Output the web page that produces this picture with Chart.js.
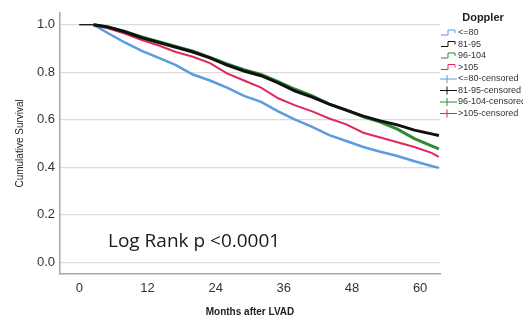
<html>
  <head>
    <script src="https://cdn.jsdelivr.net/npm/chart.js@4.4.1/dist/chart.umd.min.js"></script>
    <style>
      body { margin: 0; background: #fff; }
    </style>
  </head>
  <body>
    <canvas id="kmChart" width="523" height="322"></canvas>
    <script>
// Kaplan-Meier survival by Doppler group, months after LVAD
const months   = [0, 2.5, 5, 8, 11, 14, 17, 20, 23, 26, 29, 32, 35, 38, 41, 44, 47, 50, 53, 56, 59, 62, 63.3];
const surv80   = [1, 1, 0.965, 0.925, 0.89, 0.86, 0.83, 0.79, 0.765, 0.735, 0.70, 0.675, 0.635, 0.60, 0.57, 0.535, 0.51, 0.485, 0.465, 0.447, 0.425, 0.405, 0.397];
const surv95   = [1, 1, 0.99, 0.97, 0.945, 0.925, 0.905, 0.885, 0.86, 0.83, 0.805, 0.785, 0.755, 0.72, 0.695, 0.665, 0.64, 0.615, 0.595, 0.578, 0.556, 0.54, 0.533];
const surv104  = [1, 1, 0.99, 0.972, 0.948, 0.928, 0.908, 0.888, 0.862, 0.835, 0.81, 0.79, 0.76, 0.728, 0.70, 0.665, 0.64, 0.612, 0.59, 0.56, 0.52, 0.49, 0.477];
const surv105  = [1, 1, 0.985, 0.963, 0.935, 0.912, 0.885, 0.865, 0.838, 0.795, 0.765, 0.735, 0.69, 0.66, 0.635, 0.605, 0.58, 0.545, 0.525, 0.505, 0.485, 0.46, 0.443];

const groups  = ["<=80", "81-95", "96-104", ">105"];
const colors  = ["#5b9be0", "#111111", "#2e8b34", "#e0285a"];
const xTicks  = [0, 12, 24, 36, 48, 60];
const yTicks  = [0, 0.2, 0.4, 0.6, 0.8, 1.0];
const note    = "Log Rank p <0.0001";

const series = [surv80, surv95, surv104, surv105];
const widths = [2.5, 3, 3, 2];
// black on top, blue underneath
const drawOrder = [3, 0, 1, 2];

const datasets = series.map((vals, i) => ({
  label: groups[i],
  data: months.map((m, j) => ({x: m, y: vals[j]})),
  borderColor: colors[i],
  borderWidth: widths[i],
  // nobody at risk has died yet in the first segment: thin line
  segment: { borderWidth: ctx => ctx.p0DataIndex === 0 ? 1 : widths[i] },
  pointRadius: 0,
  fill: false,
  tension: 0,
  order: drawOrder[i],
}));

// legend and p-value text
const extras = {
  id: 'extras',
  afterDraw(chart) {
    const c = chart.ctx;
    c.save();
    c.fillStyle = '#222';
    c.font = 'bold 11px "Liberation Sans"';
    c.textAlign = 'center';
    c.textBaseline = 'middle';
    c.fillText('Doppler', 483, 18);

    c.font = '9px "Liberation Sans"';
    c.textAlign = 'left';
    const labels = groups.concat(groups.map(g => g + '-censored'));
    labels.forEach((txt, k) => {
      const y = 33 + k * 11.5;
      const col = colors[k % 4];
      c.strokeStyle = col;
      c.lineWidth = 1;
      c.beginPath();
      if (k < 4) {
        c.moveTo(441, y + 2); c.lineTo(448, y + 2); c.lineTo(448, y - 3);
        c.lineTo(455, y - 3); c.lineTo(455, y);
      } else {
        c.moveTo(440, y); c.lineTo(457, y);
        c.moveTo(447, y - 4); c.lineTo(447, y + 4);
      }
      c.stroke();
      c.fillStyle = '#333';
      c.fillText(txt, 458, y);
    });

    c.fillStyle = '#1a1a1a';
    c.font = '19px "Open Sans"';
    c.textBaseline = 'middle';
    c.fillText(note, 108, 242);
    c.restore();
  }
};

new Chart(document.getElementById('kmChart').getContext('2d'), {
  type: 'line',
  data: { datasets },
  plugins: [extras],
  options: {
    responsive: false,
    animation: false,
    layout: { padding: { top: 8, right: 83, left: 0, bottom: 0 } },
    plugins: { legend: { display: false }, tooltip: { enabled: false } },
    scales: {
      x: {
        type: 'linear',
        min: -3.4,
        max: 63.5,
        afterBuildTicks: s => { s.ticks = xTicks.map(v => ({value: v})); },
        afterFit: s => { s.height = 48; },
        grid: { display: false, drawTicks: false },
        border: { color: '#a8a8a8', width: 1.5 },
        ticks: { color: '#333', padding: 7, font: { family: 'Liberation Sans', size: 13 } },
        title: {
          display: true, text: 'Months after LVAD', color: '#222',
          font: { family: 'Liberation Sans', size: 10, weight: 'bold' },
          padding: { top: 0, bottom: 4 }
        }
      },
      y: {
        min: -0.05,
        max: 1.05,
        afterBuildTicks: s => { s.ticks = yTicks.map(v => ({value: v})); },
        afterFit: s => { s.width = 60; },
        grid: { color: '#dcdcdc', lineWidth: 1.2, drawTicks: false },
        border: { color: '#a8a8a8', width: 1.5 },
        ticks: {
          color: '#333', padding: 5, font: { family: 'Liberation Sans', size: 13 },
          callback: v => v.toFixed(1)
        },
        title: {
          display: true, text: 'Cumulative Survival', color: '#222',
          font: { family: 'Liberation Sans', size: 10 },
          padding: { top: 14, bottom: 0 }
        }
      }
    }
  }
});
    </script>
  </body>
</html>
